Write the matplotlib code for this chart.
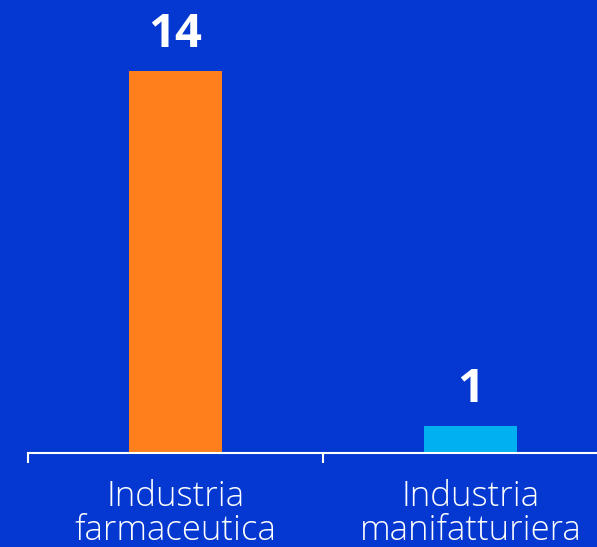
import matplotlib

matplotlib.use("Agg")

import matplotlib.pyplot as plt

categories = ["Industria\nfarmaceutica", "Industria\nmanifatturiera"]
values = [14, 1]
bar_colors = ["#FF7F1D", "#00B0F0"]

BG = "#0438D0"

fig = plt.figure(figsize=(5.97, 5.47), dpi=100, facecolor=BG)
ax = fig.add_axes([28 / 597, 94 / 547, 590 / 597, 453 / 547])
ax.set_facecolor(BG)

x = list(range(len(categories)))
ax.bar(x, values, width=0.315, color=bar_colors, zorder=2)
ax.set_xlim(-0.5, len(categories) - 0.5)
ax.set_ylim(0, 16.6)

for xi, v in zip(x, values):
    ax.annotate(str(v), (xi, v), xytext=(0, 17), textcoords="offset points",
                ha="center", va="baseline", color="white", fontsize=34,
                fontweight="bold", family="Open Sans")

# etichette delle categorie sotto l'asse
for xi, lab in zip(x, categories):
    ax.annotate(lab, (xi, 0), xytext=(0, -19), textcoords="offset points",
                ha="center", va="top", color="white", fontsize=25,
                fontweight="light", family="Open Sans", linespacing=1.0,
                annotation_clip=False)

ax.set_xticks([i - 0.5 for i in range(len(categories) + 1)])
ax.set_xticklabels([])
ax.tick_params(axis="x", colors="white", length=7, width=1.5, direction="out")
ax.set_yticks([])
for s in ["top", "right", "left"]:
    ax.spines[s].set_visible(False)
ax.spines["bottom"].set_color("white")
ax.spines["bottom"].set_linewidth(1.5)

fig.savefig("out.png", dpi=100, facecolor=BG)
